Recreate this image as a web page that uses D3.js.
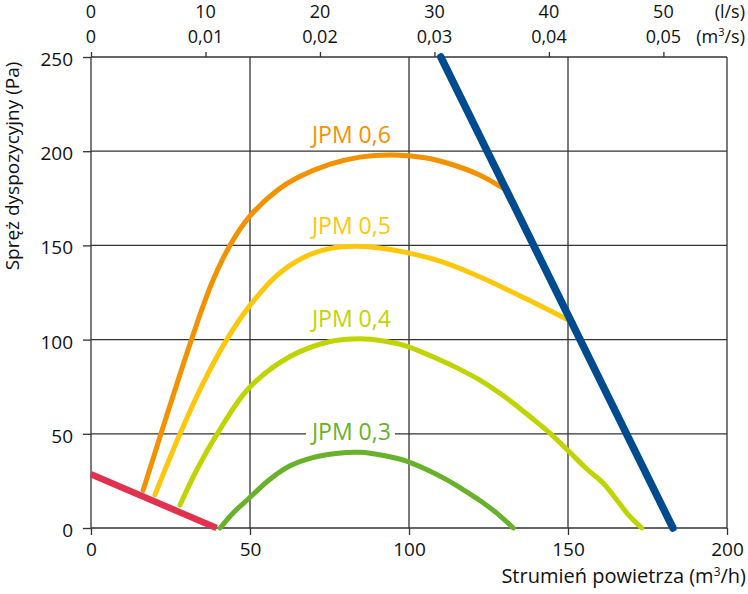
<!DOCTYPE html>
<html>
<head>
<meta charset="utf-8">
<script src="https://cdn.jsdelivr.net/npm/d3@7"></script>
<style>
  body { margin: 0; background: #fff; }
  svg { display: block; font-family: "Open Sans", sans-serif; }
</style>
</head>
<body>
<svg id="chart"></svg>
<script>
// axis ticks
var xTicks = [0, 50, 100, 150, 200];
var yTicks = [0, 50, 100, 150, 200, 250];
var topTicksLs = [0, 10, 20, 30, 40, 50];
var topTicksM3s = ['0', '0,01', '0,02', '0,03', '0,04', '0,05'];

// fan curves: [flow m3/h, pressure Pa]
var jpm06 = [[16.4,20],[22,50],[31.6,100],[38,130],[43.7,150],[49.7,165],[58.4,179],[65,186],
             [75,193],[85,197],[95,198],[105,196.5],[113,193.2],[122,187.5],[130,180]];
var jpm05 = [[20.1,17.6],[28,50],[35,76],[42.7,100],[49.7,117.5],[58.4,134],[66.7,143.5],[75,148.3],
             [83.5,149.5],[92,148.3],[99,146.3],[110,141.5],[122,133.5],[137,121.5],[151.7,109]];
var jpm04 = [[28,12.2],[33,30],[39.7,50],[49.7,74.3],[62.6,91],[75.2,99],[84.6,100.5],[92,99.3],
             [98.7,96.8],[105,92.7],[110,89],[116,84.2],[122.3,78.5],[128.6,71.5],[133,66],
             [138.5,58.5],[144.3,50.4],[150.4,40.5],[156,31.2],[161.1,23.8],[165.3,15],[169,7],[173.2,0]];
var jpm03 = [[40.6,0],[45,8.5],[49.7,15.8],[56,25.5],[62.6,33],[70,37.5],[77,39.6],[84.6,40.2],
             [92,38.5],[98.7,35.8],[105,31.5],[111.8,25.7],[117,20.4],[122.3,14.6],[127.6,7.9],[132.8,0]];
var minLine = [[0,28.5],[39.5,0]];
var maxLine = [[110,250],[183,0]];

var seriesNames = ['JPM 0,6', 'JPM 0,5', 'JPM 0,4', 'JPM 0,3'];
var seriesData = [jpm06, jpm05, jpm04, jpm03];
var seriesColors = ['#f39200', '#fdc70c', '#bfd400', '#67b22a'];

var width = 748, height = 594;
var margin = {top: 57, right: 21, bottom: 66, left: 91};

var svg = d3.select('#chart')
    .attr('width', width)
    .attr('height', height);

var x = d3.scaleLinear().domain([0, 200]).range([margin.left, width - margin.right]);
var y = d3.scaleLinear().domain([0, 250]).range([height - margin.bottom, margin.top]);
// 1 l/s = 3.6 m3/h
var xTop = d3.scaleLinear().domain([0, 200 / 3.6]).range([margin.left, width - margin.right]);

var gridColor = '#333';

// grid
svg.append('g').selectAll('line')
    .data(xTicks)
    .enter().append('line')
    .attr('x1', function(d){ return x(d); })
    .attr('x2', function(d){ return x(d); })
    .attr('y1', y(0))
    .attr('y2', y(250))
    .attr('stroke', gridColor)
    .attr('stroke-width', 1.3);
svg.append('g').selectAll('line')
    .data(yTicks)
    .enter().append('line')
    .attr('x1', x(0))
    .attr('x2', x(200))
    .attr('y1', function(d){ return y(d); })
    .attr('y2', function(d){ return y(d); })
    .attr('stroke', gridColor)
    .attr('stroke-width', 1.3);

// bottom axis
var gx = svg.append('g')
    .attr('transform', 'translate(0,' + y(0) + ')')
    .call(d3.axisBottom(x).tickValues(xTicks).tickSize(7).tickPadding(8));
// left axis
var gy = svg.append('g')
    .attr('transform', 'translate(' + x(0) + ',0)')
    .call(d3.axisLeft(y).tickValues(yTicks).tickSize(8).tickPadding(10));
gy.selectAll('text').attr('dy', '0.45em');
// top axis (l/s)
var gt = svg.append('g')
    .attr('transform', 'translate(0,' + y(250) + ')')
    .call(d3.axisTop(xTop).tickValues(topTicksLs).tickSize(5).tickFormat(function(){ return ''; }));

[gx, gy, gt].forEach(function(g){
  g.select('.domain').remove();
  g.selectAll('line').attr('stroke', gridColor).attr('stroke-width', 1.3);
  g.selectAll('text')
    .attr('font-family', '"Open Sans", sans-serif')
    .attr('font-size', '19px')
    .attr('fill', '#111');
});

svg.append('g').selectAll('text')
    .data(topTicksLs)
    .enter().append('text')
    .attr('x', function(d){ return xTop(d); })
    .attr('y', 18)
    .attr('text-anchor', 'middle')
    .attr('font-size', '18px')
    .attr('fill', '#111')
    .text(function(d){ return d; });
svg.append('g').selectAll('text')
    .data(topTicksM3s)
    .enter().append('text')
    .attr('x', function(d, i){ return xTop(topTicksLs[i]); })
    .attr('y', 43)
    .attr('text-anchor', 'middle')
    .attr('font-size', '18px')
    .attr('fill', '#111')
    .text(function(d){ return d; });
svg.append('text')
    .attr('x', 745)
    .attr('y', 18)
    .attr('text-anchor', 'end')
    .attr('font-size', '18px')
    .attr('fill', '#111')
    .text('(l/s)');
var unitTop = svg.append('text')
    .attr('x', 745)
    .attr('y', 43)
    .attr('text-anchor', 'end')
    .attr('font-size', '18px')
    .attr('fill', '#111');
unitTop.append('tspan').text('(m');
unitTop.append('tspan').attr('dy', -7).attr('font-size', '11px').text('3');
unitTop.append('tspan').attr('dy', 7).text('/s)');

// axis titles
svg.append('text')
    .attr('transform', 'translate(19,166) rotate(-90)')
    .attr('text-anchor', 'middle')
    .attr('font-size', '19px')
    .attr('fill', '#111')
    .text('Spręż dyspozycyjny (Pa)');
var xTitle = svg.append('text')
    .attr('x', 746)
    .attr('y', 583)
    .attr('text-anchor', 'end')
    .attr('font-size', '20px')
    .attr('fill', '#111');
xTitle.append('tspan').text('Strumień powietrza (m');
xTitle.append('tspan').attr('dy', -7).attr('font-size', '12px').text('3');
xTitle.append('tspan').attr('dy', 7).text('/h)');

// curves
var line = d3.line()
    .x(function(d){ return x(d[0]); })
    .y(function(d){ return y(d[1]); })
    .curve(d3.curveCatmullRom.alpha(0.5));

seriesData.forEach(function(data, i){
  svg.append('path')
    .attr('d', line(data))
    .attr('fill', 'none')
    .attr('stroke', seriesColors[i])
    .attr('stroke-width', 5)
    .attr('stroke-linecap', 'round');

  var peak = d3.max(data, function(d){ return d[1]; });
  var g = svg.append('g');
  var label = g.append('text')
    .attr('x', x(94.3))
    .attr('y', y(peak) - 12)
    .attr('text-anchor', 'end')
    .attr('font-size', '23px')
    .attr('fill', seriesColors[i])
    .text(seriesNames[i]);
  var bb = label.node().getBBox();
  g.insert('rect', 'text')
    .attr('x', bb.x - 4)
    .attr('y', bb.y + 3)
    .attr('width', bb.width + 8)
    .attr('height', bb.height - 6)
    .attr('fill', '#fff');
});

svg.append('path')
    .attr('d', d3.line().x(function(d){ return x(d[0]); }).y(function(d){ return y(d[1]); })(minLine))
    .attr('fill', 'none')
    .attr('stroke', '#e2304f')
    .attr('stroke-width', 6.5);

svg.append('path')
    .attr('d', d3.line().x(function(d){ return x(d[0]); }).y(function(d){ return y(d[1]); })(maxLine))
    .attr('fill', 'none')
    .attr('stroke', '#004b8f')
    .attr('stroke-width', 7.5)
    .attr('stroke-linecap', 'round');
</script>
</body>
</html>
